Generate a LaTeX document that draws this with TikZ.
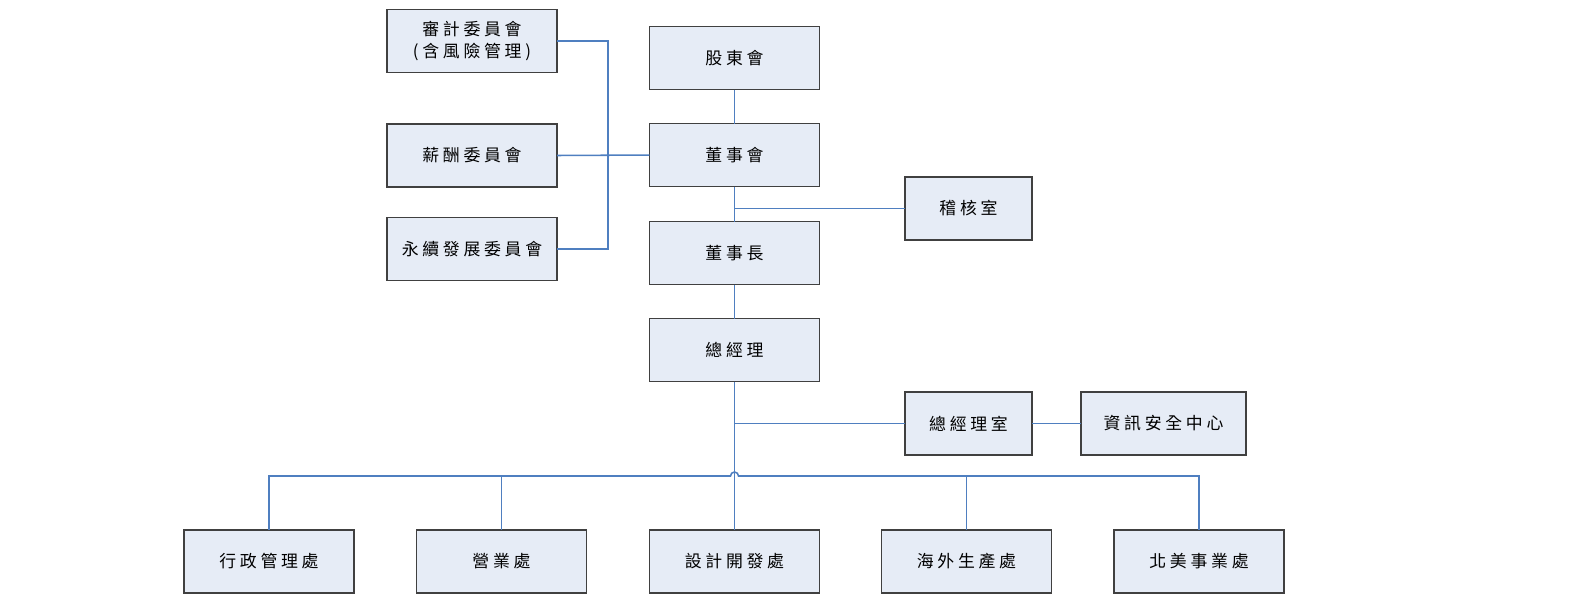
\documentclass[tikz,border=0pt]{standalone}
\usepackage{fontspec}
\setmainfont[LetterSpace=22]{Noto Sans CJK TC}
\usepackage{tikz}
\usetikzlibrary{positioning}

\definecolor{boxfill}{HTML}{E6ECF6}
\definecolor{linkblue}{HTML}{4F7FC0}

\begin{document}
\begin{tikzpicture}[
  x=0.025cm, y=-0.025cm,
  box/.style={draw=black!75, line width=0.9pt, fill=boxfill, inner sep=0pt, outer sep=0pt,
    minimum width=4.25cm, minimum height=1.575cm, align=center, font=\fontsize{12}{16}\selectfont},
  small/.style={box, minimum width=3.175cm},
  link/.style={draw=linkblue, line width=1.1pt},
]
\useasboundingbox (0,0) rectangle (1585,603);

  % Main column
  \node[box] (share) at (734.5,58) {股東會};
  \node[box, below=0.85cm of share] (board) {董事會};
  \node[box, below=0.875cm of board] (chair) {董事長};
  \node[box, below=0.85cm of chair] (ceo) {總經理};

  % Committees
  \node[box] (aud) at (472,41) {審計委員會\\(含風險管理)};
  \node[box] (pay) at (472,155.5) {薪酬委員會};
  \node[box] (sus) at (472,249) {永續發展委員會};
  \coordinate (cbus) at (608,155.5);

  % Staff offices
  \node[small] (audit) at (968.5,208.5) {稽核室};
  \node[small] (gmo) at (968.5,423.5) {總經理室};
  \node[box, minimum width=4.125cm] (isc) at (1163.5,423.5) {資訊安全中心};

  % Divisions
  \node[box] (adm) at (269,561.5) {行政管理處};
  \node[box] (sales) at (501.5,561.5) {營業處};
  \node[box] (rd) at (734.5,561.5) {設計開發處};
  \node[box] (ovs) at (966.5,561.5) {海外生產處};
  \node[box] (na) at (1199,561.5) {北美事業處};
  \coordinate (dbus) at (734.5,476);

\path[link] (share.south) -- (board.north);
\path[link] (board.south) -- (chair.north);
\path[link] (chair.south) -- (ceo.north);
\path[link] (ceo.south) -- (rd.north);
\path[link] (board.south |- audit.west) -- (audit.west);
\path[link] (ceo.south |- gmo.west) -- (gmo.west);
\path[link] (gmo.east) -- (isc.west);

\path[link] (aud.east) -| (cbus |- sus.east) -- (sus.east);
\path[link] (pay.east) -- (board.west);

\path[link] (adm.north) |- ([xshift=-0.1cm]dbus)
  arc[start angle=180, end angle=0, radius=0.1cm] -| (na.north);
\path[link] (sales.north) -- (sales.north |- dbus);
\path[link] (ovs.north) -- (ovs.north |- dbus);
\end{tikzpicture}
\end{document}
